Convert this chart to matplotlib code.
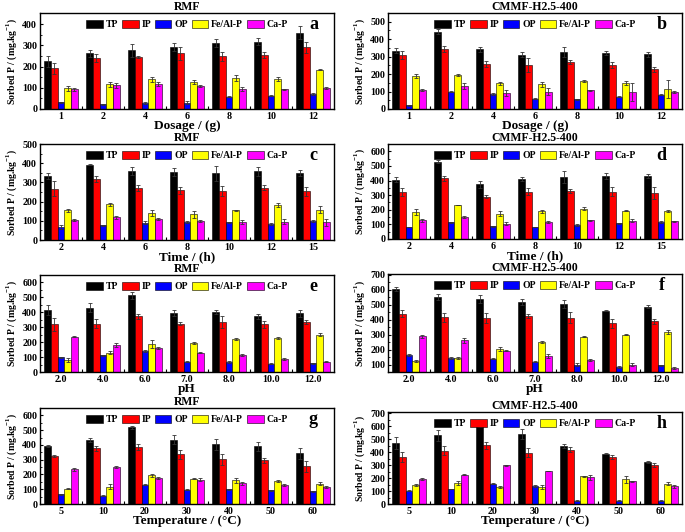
import matplotlib
matplotlib.use("Agg")
import matplotlib.pyplot as plt
import numpy as np
from matplotlib.ticker import MultipleLocator, FixedLocator

plt.rcParams['font.family'] = ['Liberation Serif', 'DejaVu Serif']
plt.rcParams['font.weight'] = 'bold'
plt.rcParams['mathtext.fontset'] = 'custom'
plt.rcParams['mathtext.rm'] = 'Liberation Serif:bold'
plt.rcParams['mathtext.bf'] = 'Liberation Serif:bold'

series = ["TP", "IP", "OP", "Fe/Al-P", "Ca-P"]
colors = ["#000000", "#FF0000", "#0000FF", "#FFFF00", "#FF00FF"]

# ---- Panel a: RMF, dosage ----
a_cats = ["1", "2", "4", "6", "8", "10", "12"]
a_TP = [225, 262, 277, 293, 310, 317, 360]
a_IP = [192, 240, 246, 262, 248, 253, 290]
a_OP = [32, 22, 28, 30, 58, 62, 70]
a_Fe = [97, 117, 140, 128, 145, 140, 185]
a_Ca = [92, 112, 118, 108, 95, 93, 100]
a_eTP = [25, 15, 30, 18, 20, 18, 30]
a_eIP = [25, 20, 5, 30, 20, 15, 25]
a_eOP = [3, 3, 3, 8, 3, 3, 5]
a_eFe = [10, 12, 12, 10, 15, 10, 3]
a_eCa = [5, 12, 10, 5, 8, 3, 5]

# ---- Panel b: CMMF-H2.5-400, dosage ----
b_cats = ["1", "2", "4", "6", "8", "10", "12"]
b_TP = [333, 443, 343, 312, 326, 322, 313]
b_IP = [308, 342, 256, 252, 268, 252, 228]
b_OP = [22, 100, 86, 60, 56, 70, 82]
b_Fe = [188, 196, 147, 142, 160, 148, 115]
b_Ca = [110, 132, 92, 100, 106, 98, 96]
b_eTP = [15, 15, 15, 15, 28, 12, 15]
b_eIP = [22, 18, 18, 42, 12, 15, 15]
b_eOP = [2, 5, 5, 5, 3, 2, 3]
b_eFe = [12, 5, 8, 15, 5, 12, 50]
b_eCa = [5, 15, 15, 18, 5, 50, 5]

# ---- Panel c: RMF, time ----
c_cats = ["2", "4", "6", "8", "10", "12", "15"]
c_TP = [333, 393, 360, 353, 347, 357, 350]
c_IP = [267, 317, 270, 260, 256, 273, 253]
c_OP = [68, 77, 90, 95, 92, 85, 97]
c_Fe = [155, 187, 140, 135, 155, 182, 158]
c_Ca = [103, 118, 110, 100, 92, 95, 92]
c_eTP = [15, 3, 20, 20, 38, 25, 15]
c_eIP = [40, 15, 15, 18, 25, 15, 22]
c_eOP = [10, 3, 8, 5, 3, 5, 5]
c_eFe = [8, 8, 15, 18, 3, 12, 18]
c_eCa = [5, 8, 5, 5, 10, 12, 18]

# ---- Panel d: CMMF-H2.5-400, time ----
d_cats = ["2", "4", "6", "8", "10", "12", "15"]
d_TP = [405, 530, 375, 410, 422, 432, 430]
d_IP = [322, 415, 290, 325, 330, 325, 315]
d_OP = [82, 113, 87, 82, 95, 107, 115]
d_Fe = [187, 233, 173, 190, 208, 193, 193]
d_Ca = [127, 152, 105, 117, 128, 125, 120]
d_eTP = [18, 12, 25, 15, 42, 20, 12]
d_eIP = [25, 15, 10, 25, 15, 30, 40]
d_eOP = [3, 3, 3, 3, 5, 5, 5]
d_eFe = [20, 3, 18, 10, 8, 3, 5]
d_eCa = [8, 5, 12, 5, 5, 10, 5]

# ---- Panel e: RMF, pH ----
e_cats = ["2.0", "4.0", "6.0", "7.0", "8.0", "10.0", "12.0"]
e_TP = [415, 432, 513, 398, 403, 373, 393]
e_IP = [320, 322, 373, 325, 336, 320, 335]
e_OP = [98, 112, 140, 70, 67, 55, 57]
e_Fe = [82, 130, 188, 195, 222, 228, 250]
e_Ca = [235, 180, 162, 128, 112, 88, 70]
e_eTP = [35, 30, 25, 20, 15, 18, 25]
e_eIP = [45, 30, 15, 12, 40, 25, 15]
e_eOP = [3, 5, 5, 3, 5, 3, 5]
e_eFe = [12, 12, 25, 5, 5, 8, 8]
e_eCa = [3, 15, 8, 3, 8, 8, 5]

# ---- Panel f: CMMF-H2.5-400, pH ----
f_cats = ["2.0", "4.0", "6.0", "7.0", "8.0", "10.0", "12.0"]
f_TP = [605, 550, 537, 520, 505, 460, 487]
f_IP = [440, 415, 410, 423, 413, 375, 388]
f_OP = [165, 143, 140, 120, 100, 83, 95]
f_Fe = [125, 145, 205, 252, 287, 298, 317]
f_Ca = [290, 262, 192, 158, 130, 100, 78]
f_eTP = [12, 20, 25, 20, 25, 5, 12]
f_eIP = [25, 30, 35, 12, 35, 30, 18]
f_eOP = [5, 8, 3, 3, 10, 8, 3]
f_eFe = [8, 8, 12, 5, 5, 3, 15]
f_eCa = [10, 15, 3, 12, 8, 10, 8]

# ---- Panel g: RMF, temperature ----
g_cats = ["5", "10", "20", "30", "40", "50", "60"]
g_TP = [393, 433, 518, 435, 403, 390, 342]
g_IP = [325, 377, 388, 338, 302, 295, 255]
g_OP = [67, 55, 130, 97, 100, 93, 85]
g_Fe = [102, 118, 195, 172, 160, 157, 138]
g_Ca = [235, 252, 175, 165, 140, 130, 113]
g_eTP = [8, 15, 10, 30, 35, 30, 35]
g_eIP = [10, 15, 20, 30, 35, 15, 35]
g_eOP = [3, 3, 3, 3, 3, 3, 3]
g_eFe = [3, 15, 10, 3, 15, 5, 10]
g_eCa = [12, 5, 5, 10, 10, 5, 8]

# ---- Panel h: CMMF-H2.5-400, temperature ----
h_cats = ["5", "10", "20", "30", "40", "50", "60"]
h_TP = [470, 530, 612, 540, 447, 388, 325]
h_IP = [365, 412, 452, 397, 420, 363, 298]
h_OP = [103, 115, 158, 140, 25, 25, 25]
h_Fe = [147, 160, 130, 130, 215, 190, 158]
h_Ca = [192, 225, 300, 255, 205, 175, 137]
h_eTP = [45, 40, 20, 38, 15, 5, 8]
h_eIP = [40, 35, 30, 35, 20, 15, 15]
h_eOP = [3, 3, 5, 5, 3, 3, 3]
h_eFe = [5, 15, 10, 18, 3, 25, 8]
h_eCa = [10, 5, 3, 3, 20, 5, 10]

W, H = 685, 532
fig = plt.figure(figsize=(W / 100, H / 100), dpi=100)

def ax_at(x0, y0, x1, y1):
    return fig.add_axes([x0 / W, 1 - y1 / H, (x1 - x0) / W, (y1 - y0) / H])

panels = [
    dict(box=(40, 13, 334, 109), title="RMF", letter="a", cats=a_cats,
         vals=[a_TP, a_IP, a_OP, a_Fe, a_Ca], errs=[a_eTP, a_eIP, a_eOP, a_eFe, a_eCa],
         ylim=(0, 452), step=100, xlabel="Dosage / (g)"),
    dict(box=(388, 13, 682, 109), title="CMMF-H2.5-400", letter="b", cats=b_cats,
         vals=[b_TP, b_IP, b_OP, b_Fe, b_Ca], errs=[b_eTP, b_eIP, b_eOP, b_eFe, b_eCa],
         ylim=(0, 550), step=100, xlabel="Dosage / (g)"),
    dict(box=(40, 144, 334, 240), title="RMF", letter="c", cats=c_cats,
         vals=[c_TP, c_IP, c_OP, c_Fe, c_Ca], errs=[c_eTP, c_eIP, c_eOP, c_eFe, c_eCa],
         ylim=(0, 500), step=100, xlabel="Time / (h)"),
    dict(box=(388, 144, 682, 239), title="CMMF-H2.5-400", letter="d", cats=d_cats,
         vals=[d_TP, d_IP, d_OP, d_Fe, d_Ca], errs=[d_eTP, d_eIP, d_eOP, d_eFe, d_eCa],
         ylim=(0, 650), step=100, xlabel="Time / (h)"),
    dict(box=(40, 275, 334, 372), title="RMF", letter="e", cats=e_cats,
         vals=[e_TP, e_IP, e_OP, e_Fe, e_Ca], errs=[e_eTP, e_eIP, e_eOP, e_eFe, e_eCa],
         ylim=(0, 650), step=100, xlabel="pH"),
    dict(box=(388, 274, 682, 372), title="CMMF-H2.5-400", letter="f", cats=f_cats,
         vals=[f_TP, f_IP, f_OP, f_Fe, f_Ca], errs=[f_eTP, f_eIP, f_eOP, f_eFe, f_eCa],
         ylim=(50, 705), step=100, xlabel="pH"),
    dict(box=(40, 408, 334, 504), title="RMF", letter="g", cats=g_cats,
         vals=[g_TP, g_IP, g_OP, g_Fe, g_Ca], errs=[g_eTP, g_eIP, g_eOP, g_eFe, g_eCa],
         ylim=(0, 650), step=100, xlabel="Temperature / (°C)"),
    dict(box=(388, 412, 682, 504), title="CMMF-H2.5-400", letter="h", cats=h_cats,
         vals=[h_TP, h_IP, h_OP, h_Fe, h_Ca], errs=[h_eTP, h_eIP, h_eOP, h_eFe, h_eCa],
         ylim=(0, 710), step=100, xlabel="Temperature / (°C)"),
]

bw = 0.158
for p in panels:
    ax = ax_at(*p["box"])
    n = len(p["cats"])
    x = np.arange(n)
    for i, (name, col, v, e) in enumerate(zip(series, colors, p["vals"], p["errs"])):
        ax.bar(x + (i - 2) * bw, v, width=bw, color=col, edgecolor="black",
               linewidth=0.4, label=name,
               yerr=e, error_kw=dict(ecolor="#333333", elinewidth=0.6, capsize=1.6, capthick=0.6))
    ax.set_xlim(-0.5, n - 0.5)
    ax.set_ylim(*p["ylim"])
    ax.set_xticks(x)
    ax.set_xticklabels(p["cats"])
    ax.xaxis.set_minor_locator(FixedLocator(np.arange(n - 1) + 0.5))
    ax.yaxis.set_major_locator(MultipleLocator(p["step"]))
    ax.yaxis.set_minor_locator(MultipleLocator(p["step"] / 2))
    ax.tick_params(axis="x", which="major", length=0, labelsize=7.2, pad=2.5)
    ax.tick_params(axis="x", which="minor", length=2, direction="in", width=0.8)
    ax.tick_params(axis="y", which="major", length=2.5, direction="in", labelsize=7.2, pad=2, width=0.8)
    ax.tick_params(axis="y", which="minor", length=1.5, direction="in", width=0.6)
    for lab in ax.get_xticklabels() + ax.get_yticklabels():
        lab.set_fontweight("bold")
    for s in ax.spines.values():
        s.set_linewidth(1.0)
    ax.set_title(p["title"], fontsize=8.5, fontweight="bold", pad=1.5)
    ax.set_xlabel(p["xlabel"], fontsize=9.5, fontweight="bold", labelpad=-1)
    ax.set_ylabel(r"Sorbed P / (mg.kg$^{\mathbf{-1}}$)", fontsize=7, fontweight="bold", labelpad=2)
    leg = ax.legend(loc="upper center", bbox_to_anchor=(0.5, 1.0), ncol=5, frameon=False,
                    fontsize=7, handlelength=1.7, handleheight=0.8, handletextpad=0.3,
                    columnspacing=0.4, borderaxespad=0.35)
    for t in leg.get_texts():
        t.set_fontweight("bold")
    ax.text(0.93, 0.88, p["letter"], transform=ax.transAxes, fontsize=13,
            fontweight="bold", ha="center", va="center")

fig.savefig("out.png", dpi=100)
